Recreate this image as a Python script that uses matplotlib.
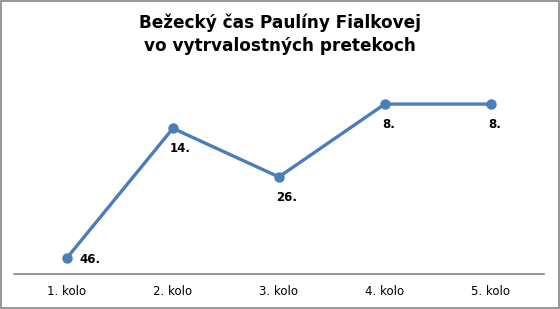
import matplotlib.pyplot as plt
from matplotlib.patches import Rectangle

kola = ['1. kolo', '2. kolo', '3. kolo', '4. kolo', '5. kolo']
poradie = [46, 14, 26, 8, 8]

fig = plt.figure(figsize=(5.6, 3.09), dpi=100)
ax = fig.add_axes([0.025, 0.113, 0.946, 0.655])

x = range(len(kola))
ax.plot(x, poradie, color='#4A7EBB', linewidth=2.4, marker='o', markersize=6.5)

# labels under the points, the first one to the right
for i, v in enumerate(poradie):
    if i == 0:
        ax.annotate(f'{v}.', (i, v), xytext=(9, -1), textcoords='offset points',
                    ha='left', va='center', fontsize=8.5, fontweight='bold')
    else:
        ax.annotate(f'{v}.', (i, v), xytext=(-2, -10), textcoords='offset points',
                    ha='left', va='top', fontsize=8.5, fontweight='bold')

ax.set_xlim(-0.5, 4.5)
ax.set_ylim(50, 0)
ax.set_xticks(list(x))
ax.set_xticklabels(kola, fontsize=8.5)
ax.tick_params(axis='x', length=0, pad=8)
ax.set_yticks([])
for s in ['top', 'left', 'right']:
    ax.spines[s].set_visible(False)
ax.spines['bottom'].set_color('#868686')
ax.spines['bottom'].set_linewidth(1.2)

fig.text(0.5, 0.955, 'Bežecký čas Paulíny Fialkovej\nvo vytrvalostných pretekoch',
         ha='center', va='top', fontsize=12.2, fontweight='bold', linespacing=1.35)

fig.patches.append(Rectangle((0.001, 0.002), 0.997, 0.995, transform=fig.transFigure,
                             fill=False, edgecolor='#868686', linewidth=1.2))

fig.savefig('out.png', dpi=100)
